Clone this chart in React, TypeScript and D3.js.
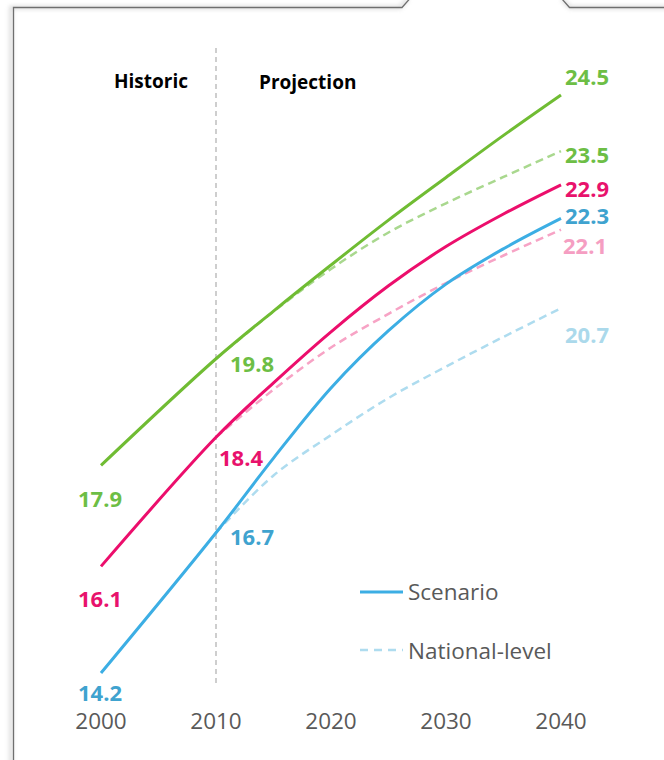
import React from "react";
import * as d3 from "d3";

// Years on the x axis
const years = [2000, 2010, 2015, 2020, 2025, 2030, 2035, 2040];
const projYears = [2010, 2015, 2020, 2025, 2030, 2035, 2040];
const tickYears = [2000, 2010, 2020, 2030, 2040];

// Scenario series (solid)
const greenScenario = [17.9, 19.8, 20.65, 21.47, 22.27, 23.03, 23.78, 24.5];
const pinkScenario = [16.1, 18.4, 19.37, 20.28, 21.1, 21.8, 22.38, 22.9];
const blueScenario = [14.2, 16.7, 18.03, 19.28, 20.3, 21.13, 21.76, 22.3];

// National-level series (dashed), starting in 2010
const greenNational = [19.8, 20.64, 21.4, 22.05, 22.57, 23.04, 23.5];
const pinkNational = [18.4, 19.25, 20.0, 20.6, 21.15, 21.64, 22.1];
const blueNational = [16.7, 17.72, 18.44, 19.1, 19.66, 20.19, 20.7];

const W = 664;
const H = 760;

const C = {
  green: "#70BC33",
  greenLabel: "#6DBE45",
  greenLight: "#A9D88E",
  pink: "#EC0E6C",
  pinkLabel: "#E8126C",
  pinkLight: "#F7A3C5",
  pinkLightLabel: "#F59EC2",
  blue: "#3CAEE4",
  blueLabel: "#3FA3CF",
  blueLight: "#AEDCEF",
  blueLightLabel: "#ABD9EB",
  axis: "#595959",
  grid: "#BFBFBF",
};

const FONT = "'Open Sans', 'DejaVu Sans', sans-serif";

export default function App() {
  const x = d3.scaleLinear().domain([2000, 2040]).range([101, 561]);
  const y = d3.scaleLinear().domain([14.2, 24.5]).range([673, 95]);

  const line = d3
    .line<[number, number]>()
    .x((d) => x(d[0]))
    .y((d) => y(d[1]))
    .curve(d3.curveCatmullRom.alpha(0.5));

  const zip = (xs: number[], vs: number[]) =>
    xs.map((yr, i) => [yr, vs[i]] as [number, number]);

  const solids = [
    { v: greenScenario, color: C.green },
    { v: pinkScenario, color: C.pink },
    { v: blueScenario, color: C.blue },
  ];
  const dashed = [
    { v: greenNational, color: C.greenLight },
    { v: pinkNational, color: C.pinkLight },
    { v: blueNational, color: C.blueLight },
  ];

  // value labels: year, value, colour, horizontal anchor/offset, baseline offset
  const labels = [
    { yr: 2000, v: greenScenario[0], c: C.greenLabel, anchor: "middle", dx: -1, dy: 42 },
    { yr: 2000, v: pinkScenario[0], c: C.pinkLabel, anchor: "middle", dx: -1, dy: 41 },
    { yr: 2000, v: blueScenario[0], c: C.blueLabel, anchor: "middle", dx: -1, dy: 28 },
    { yr: 2010, v: greenScenario[1], c: C.greenLabel, anchor: "start", dx: 14, dy: 13 },
    { yr: 2010, v: pinkScenario[1], c: C.pinkLabel, anchor: "start", dx: 3, dy: 29 },
    { yr: 2010, v: blueScenario[1], c: C.blueLabel, anchor: "start", dx: 14, dy: 12 },
    { yr: 2040, v: greenScenario[7], c: C.greenLabel, anchor: "start", dx: 4, dy: -10 },
    { yr: 2040, v: greenNational[6], c: C.greenLabel, anchor: "start", dx: 4, dy: 12 },
    { yr: 2040, v: pinkScenario[7], c: C.pinkLabel, anchor: "start", dx: 4, dy: 12 },
    { yr: 2040, v: blueScenario[7], c: C.blueLabel, anchor: "start", dx: 4, dy: 6 },
    { yr: 2040, v: pinkNational[6], c: C.pinkLightLabel, anchor: "start", dx: 2, dy: 24 },
    { yr: 2040, v: blueNational[6], c: C.blueLightLabel, anchor: "start", dx: 4, dy: 35 },
  ];

  return (
    <div style={{ position: "absolute", left: 0, top: 0, width: W, height: H, background: "#fff" }}>
      <svg width={W} height={H} style={{ display: "block" }}>
        <defs>
          <filter id="soft" x="-50%" y="-50%" width="200%" height="200%">
            <feGaussianBlur stdDeviation="2" />
          </filter>
        </defs>
        <rect width={W} height={H} fill="#fff" />

        {/* callout frame */}
        <path
          d="M11 770 L11 7.5 L400 7.5 L408 -1 M562 -1 L570 7.5 L670 7.5"
          fill="none"
          stroke="#aaa"
          strokeWidth={3}
          opacity={0.5}
          filter="url(#soft)"
        />
        <path
          d="M13.5 770 L13.5 7.5 L402 7.5 L409.5 -1 M562 -1 L569.5 7.5 L670 7.5"
          fill="none"
          stroke="#6f6f6f"
          strokeWidth={1.3}
        />

        {/* historic / projection divider */}
        <line
          x1={x(2010)}
          x2={x(2010)}
          y1={48}
          y2={687}
          stroke={C.grid}
          strokeWidth={1.5}
          strokeDasharray="5 4"
        />
        <text x={188} y={88} textAnchor="end" fontFamily={FONT} fontWeight={700} fontSize={19} fill="#000">
          Historic
        </text>
        <text x={259} y={89} textAnchor="start" fontFamily={FONT} fontWeight={700} fontSize={19} fill="#000">
          Projection
        </text>

        {/* national-level dashed lines */}
        {dashed.map((s, i) => (
          <path
            key={"d" + i}
            d={line(zip(projYears, s.v)) || ""}
            fill="none"
            stroke={s.color}
            strokeWidth={2.5}
            strokeDasharray="8 5"
          />
        ))}

        {/* scenario solid lines */}
        {solids.map((s, i) => (
          <path
            key={"s" + i}
            d={line(zip(years, s.v)) || ""}
            fill="none"
            stroke={s.color}
            strokeWidth={3}
          />
        ))}

        {/* value labels */}
        {labels.map((l, i) => (
          <text
            key={"l" + i}
            x={x(l.yr) + l.dx}
            y={y(l.v) + l.dy}
            textAnchor={l.anchor as any}
            fontFamily={FONT}
            fontWeight={700}
            fontSize={22}
            fill={l.c}
          >
            {l.v.toFixed(1)}
          </text>
        ))}

        {/* x axis tick labels */}
        {tickYears.map((t) => (
          <text
            key={t}
            x={x(t)}
            y={729}
            textAnchor="middle"
            fontFamily={FONT}
            fontSize={22.5}
            fill={C.axis}
          >
            {t}
          </text>
        ))}

        {/* legend */}
        <line x1={360} x2={403} y1={592} y2={592} stroke={C.blue} strokeWidth={3} />
        <text x={408} y={600} fontFamily={FONT} fontSize={22.5} fill={C.axis}>
          Scenario
        </text>
        <line x1={360} x2={403} y1={650} y2={650} stroke={C.blueLight} strokeWidth={2.5} strokeDasharray="8 6" />
        <text x={408} y={659} fontFamily={FONT} fontSize={22.5} fill={C.axis}>
          National-level
        </text>
      </svg>
    </div>
  );
}
